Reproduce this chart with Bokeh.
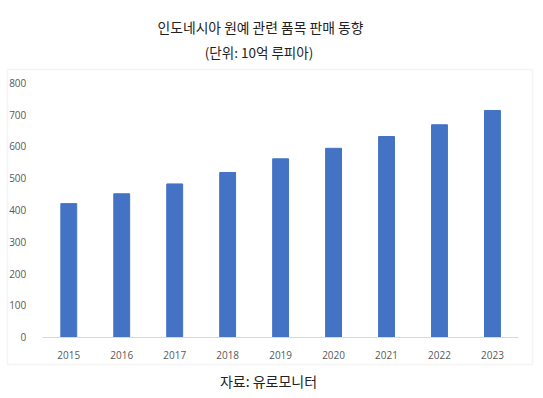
from bokeh.plotting import figure
from bokeh.models import Range1d, Label, BoxAnnotation, FixedTicker, SingleIntervalTicker
from bokeh.embed import file_html
from bokeh.resources import INLINE

years = ["2015", "2016", "2017", "2018", "2019", "2020", "2021", "2022", "2023"]
sales = [420, 451, 482, 518, 561, 594, 631, 668, 713]
title_text = "인도네시아 원예 관련 품목 판매 동향"
subtitle_text = "(단위: 10억 루피아)"
source_text = "자료: 유로모니터"

# ---- layout (pixels on the canvas, origin top-left) ----
W, H = 540, 396
cat_left, cat_w = 41.8, 52.96     # left edge of first category, width of one category
y0_px, y800_px = 336.7, 82.3       # pixel rows of value 0 and 800
ppu = (y0_px - y800_px) / 800.0

xs = list(range(len(years)))
p = figure(width=W, height=H, output_backend="svg", toolbar_location=None,
           x_range=Range1d(-0.5 - cat_left / cat_w, len(years) - 0.5 + (W - cat_left - cat_w * len(years)) / cat_w),
           y_range=Range1d(-(H - y0_px) / ppu, 800 + y800_px / ppu),
           min_border=0, min_border_left=0, min_border_right=0, min_border_top=0, min_border_bottom=0)
p.title.visible = False
p.outline_line_color = None
p.background_fill_color = "white"
p.border_fill_color = "white"
p.xgrid.visible = False
p.ygrid.visible = False

p.vbar(x=xs, top=sales, width=0.3, color="#4472C4")

p.yaxis.fixed_location = -0.5
p.yaxis.ticker = SingleIntervalTicker(interval=100)
p.yaxis.bounds = (0, 800)
p.yaxis.axis_line_color = None
p.yaxis.major_tick_line_color = None
p.yaxis.minor_tick_line_color = None
p.yaxis.major_label_standoff = 10
p.yaxis.major_label_text_font = "Open Sans"
p.yaxis.major_label_text_font_size = "10px"
p.yaxis.major_label_text_color = "#595959"

p.xaxis.fixed_location = 0
p.xaxis.ticker = FixedTicker(ticks=xs)
p.xaxis.major_label_overrides = {i: y for i, y in zip(xs, years)}
p.xaxis.bounds = (-0.5, len(years) - 0.5)
p.xaxis.axis_line_color = "#D9D9D9"
p.xaxis.major_tick_line_color = None
p.xaxis.minor_tick_line_color = None
p.xaxis.major_label_standoff = 8
p.xaxis.major_label_text_font = "Open Sans"
p.xaxis.major_label_text_font_size = "10px"
p.xaxis.major_label_text_color = "#595959"

box = BoxAnnotation(left=7, right=532, top=H - 69, bottom=H - 364,
                    left_units="screen", right_units="screen",
                    top_units="screen", bottom_units="screen",
                    fill_color=None, fill_alpha=0, line_color="#D9D9D9", line_width=1.5)
p.add_layout(box)

for txt, x, y, fs in [(title_text, 260, 26.7, "13.8px"), (subtitle_text, 258.5, 51.7, "13.5px"),
                      (source_text, 268, 380, "14px")]:
    p.add_layout(Label(x=x, y=H - y, x_units="screen", y_units="screen", text=txt,
                       text_align="center", text_baseline="middle",
                       text_font="Noto Sans CJK KR", text_font_size=fs,
                       text_color="#222222"))

open("out.html", "w").write(file_html(p, INLINE))
